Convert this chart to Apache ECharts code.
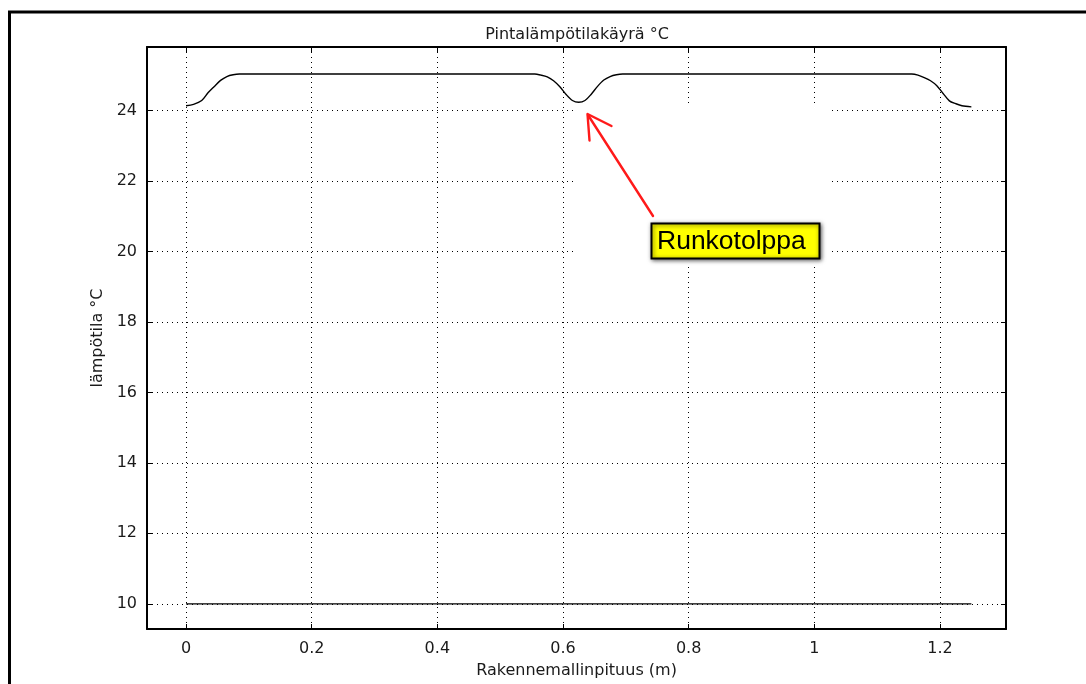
<!DOCTYPE html>
<html>
<head>
<meta charset="utf-8">
<script src="https://cdn.jsdelivr.net/npm/echarts@6/dist/echarts.min.js"></script>
<style>
  html, body { margin: 0; padding: 0; background: #ffffff; }
  #chart { width: 1086px; height: 684px; }
</style>
</head>
<body>
<div id="chart"></div>
<script>
// Inner surface temperature along the wall model (m -> °C)
const surfaceX = [
  0, 0.012, 0.025, 0.035, 0.045, 0.055, 0.065, 0.075, 0.085,
  0.555, 0.565, 0.575, 0.585, 0.595, 0.605, 0.615, 0.625, 0.635, 0.645,
  0.655, 0.665, 0.675, 0.685, 0.695,
  1.155, 1.165, 1.175, 1.185, 1.195, 1.205, 1.215, 1.225, 1.235, 1.25
];
const surfaceTemp = [
  24.13, 24.17, 24.28, 24.5, 24.68, 24.85, 24.96, 25.01, 25.03,
  25.03, 25.0, 24.95, 24.84, 24.67, 24.45, 24.28, 24.23, 24.28, 24.46,
  24.68, 24.86, 24.96, 25.01, 25.03,
  25.03, 25.0, 24.93, 24.84, 24.7, 24.48, 24.27, 24.19, 24.13, 24.1
];
// Reference level line
const baseX = [0, 1.25];
const baseTemp = [10, 10];

const xTicks = [0, 0.2, 0.4, 0.6, 0.8, 1, 1.2];
const yTicks = [10, 12, 14, 16, 18, 20, 22, 24];

const chartTitle = 'Pintalämpötilakäyrä °C';
const xName = 'Rakennemallinpituus (m)';
const yName = 'lämpötila °C';
const calloutText = 'Runkotolppa';

const X_MIN = -0.0621, X_MAX = 1.3051;
const Y_MIN = 9.286, Y_MAX = 25.798;

const FONT = 'DejaVu Sans';
const TXT = '#1a1a1a';

const dotted = { color: '#000', width: 1, type: [1, 4] };

function pairs(xs, ys) { return xs.map((x, i) => [x, ys[i]]); }

const chart = echarts.init(document.getElementById('chart'), null, { renderer: 'canvas' });

chart.setOption({
  animation: false,
  backgroundColor: '#ffffff',
  title: {
    text: chartTitle,
    left: 572,
    top: 22,
    textAlign: 'center',
    textStyle: { fontFamily: FONT, fontSize: 16, fontWeight: 'normal', color: TXT }
  },
  grid: { left: 147, top: 47, width: 859, height: 585, containLabel: false },
  xAxis: [
    {
      type: 'value', min: X_MIN, max: X_MAX, position: 'bottom',
      name: xName, nameLocation: 'middle', nameGap: 34,
      nameTextStyle: { fontFamily: FONT, fontSize: 16, color: TXT },
      axisLine: { show: true, onZero: false, lineStyle: { color: '#000', width: 2 } },
      axisTick: { show: true, inside: true, length: 5, customValues: xTicks, lineStyle: { color: '#000', width: 1 } },
      axisLabel: { customValues: xTicks, margin: 12, fontFamily: FONT, fontSize: 16, color: TXT },
      splitLine: { show: true, lineStyle: dotted }
    },
    {
      type: 'value', min: X_MIN, max: X_MAX, position: 'top',
      axisLine: { show: true, onZero: false, lineStyle: { color: '#000', width: 2 } },
      axisTick: { show: true, inside: true, length: 5, customValues: xTicks, lineStyle: { color: '#000', width: 1 } },
      axisLabel: { show: false },
      splitLine: { show: false }
    }
  ],
  yAxis: [
    {
      type: 'value', min: Y_MIN, max: Y_MAX, position: 'left',
      name: yName, nameLocation: 'middle', nameGap: 38,
      nameTextStyle: { fontFamily: FONT, fontSize: 16, color: TXT },
      axisLine: { show: true, onZero: false, lineStyle: { color: '#000', width: 2 } },
      axisTick: { show: true, inside: true, length: 5, customValues: yTicks, lineStyle: { color: '#000', width: 1 } },
      axisLabel: { customValues: yTicks, margin: 10, fontFamily: FONT, fontSize: 16, color: TXT },
      splitLine: { show: true, lineStyle: dotted }
    },
    {
      type: 'value', min: Y_MIN, max: Y_MAX, position: 'right',
      axisLine: { show: true, onZero: false, lineStyle: { color: '#000', width: 2 } },
      axisTick: { show: true, inside: true, length: 5, customValues: yTicks, lineStyle: { color: '#000', width: 1 } },
      axisLabel: { show: false },
      splitLine: { show: false }
    }
  ],
  series: [
    {
      type: 'line', xAxisIndex: 0, yAxisIndex: 0,
      data: pairs(surfaceX, surfaceTemp),
      showSymbol: false, smooth: 0.3,
      lineStyle: { color: '#000', width: 1.4 },
      z: 3
    },
    {
      type: 'line', xAxisIndex: 0, yAxisIndex: 0,
      data: pairs(baseX, baseTemp),
      showSymbol: false,
      lineStyle: { color: '#000', width: 1.2 },
      z: 3
    }
  ],
  graphic: [
    // outer frame
    { type: 'line', shape: { x1: 8, y1: 12, x2: 1086, y2: 12 }, style: { stroke: '#000', lineWidth: 3 }, z: 20 },
    { type: 'line', shape: { x1: 9.5, y1: 11, x2: 9.5, y2: 684 }, style: { stroke: '#000', lineWidth: 3 }, z: 20 },
    // blank backing behind the callout
    { type: 'rect', shape: { x: 577, y: 106, width: 255, height: 160 }, style: { fill: '#ffffff' }, z: 1 },
    // red arrow
    { type: 'line', shape: { x1: 653, y1: 216, x2: 588, y2: 115 }, style: { stroke: '#ff1a1a', lineWidth: 2.4, lineCap: 'round' }, z: 10 },
    { type: 'polyline', shape: { points: [[611.5, 126], [587.5, 114], [589.5, 140.5]] }, style: { stroke: '#ff1a1a', fill: null, lineWidth: 2.4, lineCap: 'round', lineJoin: 'round' }, z: 10 },
    // callout box
    { type: 'rect', shape: { x: 651.5, y: 223.5, width: 168, height: 35 },
      style: { fill: '#ffff00', stroke: '#000', lineWidth: 2, shadowBlur: 4, shadowColor: 'rgba(0,0,0,0.55)', shadowOffsetX: 1, shadowOffsetY: 1 }, z: 11 },
    { type: 'text', x: 657, y: 241.5,
      style: { text: calloutText, fill: '#000', font: '26.5px "Liberation Sans", Arial, sans-serif', textAlign: 'left', textVerticalAlign: 'middle' }, z: 12 }
  ]
});
</script>
</body>
</html>
